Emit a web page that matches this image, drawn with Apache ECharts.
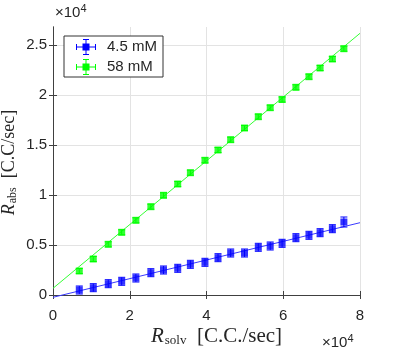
<!DOCTYPE html>
<html>
<head>
<meta charset="utf-8">
<script src="https://cdn.jsdelivr.net/npm/echarts@6/dist/echarts.min.js"></script>
<style>
  html, body { margin: 0; padding: 0; background: #fff; }
  #chart { width: 399px; height: 354px; }
</style>
</head>
<body>
<div id="chart"></div>
<script>
// solvent count rate (x) shared by both measurements
const solvRate = [6850, 10500, 14400, 17900, 21600, 25500, 28800, 32500, 35800, 39600, 43000,
  46300, 49900, 53500, 56600, 59700, 63300, 66700, 69600, 72800, 75800];
// absorbed rate, 4.5 mM
const absLow = [500, 730, 1130, 1370, 1700, 2230, 2500, 2670, 3070, 3270, 3730,
  4200, 4200, 4770, 4900, 5170, 5730, 5970, 6230, 6630, 7300];
const errLow = [400, 400, 400, 400, 400, 400, 400, 400, 400, 400, 400,
  400, 400, 400, 400, 400, 400, 400, 400, 400, 500];
// absorbed rate, 58 mM
const absHigh = [2400, 3600, 5070, 6270, 7470, 8830, 9970, 11100, 12230, 13470, 14500,
  15530, 16700, 17830, 18730, 19550, 20770, 21830, 22700, 23600, 24630];
const errHigh = [250, 250, 250, 250, 250, 250, 250, 250, 250, 250, 250,
  250, 250, 250, 250, 250, 250, 250, 250, 250, 250];
// linear fits
const fitX = [0, 80000];
const fitLow = [-230, 7230];
const fitHigh = [670, 26170];
// ticks
const xTicks = [0, 20000, 40000, 60000, 80000];
const yTicks = [0, 5000, 10000, 15000, 20000, 25000];

const blue = '#0000ff';
const green = '#00ff00';
const axisColor = '#404040';
const sans = 'Liberation Sans';
const serif = 'Liberation Serif';

// marker with error bars, used as legend icon
const errIcon = 'path://M0 7.5H20V8.5H0Z M9.5 0H10.5V16H9.5Z M0 5H1V11H0Z M19 5H20V11H19Z ' +
  'M7 0H13V1H7Z M7 15H13V16H7Z M6.5 4.5H13.5V11.5H6.5Z';

function errorBars(params, api) {
  const x = api.value(0);
  const y = api.value(1);
  const e = api.value(2);
  const top = api.coord([x, y + e]);
  const bot = api.coord([x, y - e]);
  const half = 3.5;
  const style = { stroke: api.visual('color'), lineWidth: 1 };
  return {
    type: 'group',
    children: [
      { type: 'line', shape: { x1: top[0], y1: top[1], x2: bot[0], y2: bot[1] }, style: style },
      { type: 'line', shape: { x1: top[0] - half, y1: top[1], x2: top[0] + half, y2: top[1] }, style: style },
      { type: 'line', shape: { x1: bot[0] - half, y1: bot[1], x2: bot[0] + half, y2: bot[1] }, style: style }
    ]
  };
}

const zip = (xs, ys) => xs.map((x, i) => [x, ys[i]]);
const zip3 = (xs, ys, es) => xs.map((x, i) => [x, ys[i], es[i]]);

const chart = echarts.init(document.getElementById('chart'));

const baseX = {
  type: 'value', min: 0, max: 80000, interval: 20000,
  axisLine: { show: true, lineStyle: { color: axisColor, width: 1 } },
  axisTick: { show: true, inside: true, length: 4, lineStyle: { color: axisColor } }
};
const baseY = {
  type: 'value', min: -300, max: 26800,
  axisLine: { show: true, lineStyle: { color: axisColor, width: 1 } },
  axisTick: { show: true, inside: true, length: 4, customValues: yTicks, lineStyle: { color: axisColor } }
};

chart.setOption({
  animation: false,
  grid: { left: 53, right: 39, top: 27, bottom: 56, outerBoundsMode: 'none' },
  legend: {
    data: ['4.5 mM', '58 mM'],
    orient: 'vertical',
    left: 64, top: 36,
    padding: [3, 6, 2, 12],
    itemWidth: 20, itemHeight: 16, itemGap: 4,
    backgroundColor: '#fff',
    borderColor: '#333', borderWidth: 1, borderRadius: 0,
    icon: errIcon,
    textStyle: { fontFamily: sans, fontSize: 15, color: '#262626', padding: [0, 0, 0, 6] }
  },
  xAxis: [
    Object.assign({}, baseX, {
      position: 'bottom',
      name: '{i|R}{s|solv}{n|  [C.C./sec]}',
      nameLocation: 'middle', nameGap: 28, nameMoveOverlap: false,
      nameTextStyle: {
        padding: [0, 0, 0, 20],
        rich: {
          i: { fontFamily: serif, fontStyle: 'italic', fontSize: 21, color: '#262626' },
          s: { fontFamily: serif, fontSize: 13, color: '#262626', padding: [8, 0, 0, 1] },
          n: { fontFamily: serif, fontSize: 21, color: '#262626' }
        }
      },
      axisLabel: {
        fontFamily: sans, fontSize: 15, color: '#262626', margin: 10,
        formatter: v => String(v / 10000)
      },
      splitLine: { show: true, lineStyle: { color: '#e3e3e3', width: 1 } }
    }),
    Object.assign({}, baseX, {
      position: 'top',
      axisLabel: { show: false },
      splitLine: { show: false }
    })
  ],
  yAxis: [
    Object.assign({}, baseY, {
      position: 'left',
      name: '{i|R}{s|abs}{n|  [C.C/sec]}',
      nameLocation: 'middle', nameGap: 34, nameRotate: 90, nameMoveOverlap: false,
      nameTextStyle: {
        rich: {
          i: { fontFamily: serif, fontStyle: 'italic', fontSize: 18, color: '#262626' },
          s: { fontFamily: serif, fontSize: 12, color: '#262626', padding: [7, 0, 0, 1] },
          n: { fontFamily: serif, fontSize: 18, color: '#262626' }
        }
      },
      axisLabel: {
        fontFamily: sans, fontSize: 15, color: '#262626', margin: 6,
        customValues: yTicks,
        formatter: v => String(v / 10000)
      },
      splitLine: { show: true, lineStyle: { color: '#e3e3e3', width: 1 } }
    }),
    Object.assign({}, baseY, {
      position: 'right',
      axisLabel: { show: false },
      splitLine: { show: false }
    })
  ],
  graphic: [
    {
      type: 'text', left: 55, top: 3,
      style: {
        text: '×10{s|4}', fontFamily: sans, fontSize: 15, fill: '#262626',
        rich: { s: { fontFamily: sans, fontSize: 11, fill: '#262626', padding: [0, 0, 8, 0] } }
      }
    },
    {
      type: 'text', left: 322, top: 333,
      style: {
        text: '×10{s|4}', fontFamily: sans, fontSize: 15, fill: '#262626',
        rich: { s: { fontFamily: sans, fontSize: 11, fill: '#262626', padding: [0, 0, 8, 0] } }
      }
    }
  ],
  series: [
    {
      name: 'fit low', type: 'line', data: zip(fitX, fitLow), symbol: 'none',
      lineStyle: { color: '#3a3aff', width: 1 }, z: 1
    },
    {
      name: 'fit high', type: 'line', data: zip(fitX, fitHigh), symbol: 'none',
      lineStyle: { color: '#33ff33', width: 1 }, z: 1
    },
    {
      name: '4.5 mM', type: 'custom', renderItem: errorBars,
      data: zip3(solvRate, absLow, errLow), itemStyle: { color: blue }, z: 2
    },
    {
      name: '58 mM', type: 'custom', renderItem: errorBars,
      data: zip3(solvRate, absHigh, errHigh), itemStyle: { color: green }, z: 2
    },
    {
      name: '4.5 mM', type: 'scatter', data: zip(solvRate, absLow),
      symbol: 'rect', symbolSize: 7, itemStyle: { color: blue }, z: 3
    },
    {
      name: '58 mM', type: 'scatter', data: zip(solvRate, absHigh),
      symbol: 'rect', symbolSize: 7, itemStyle: { color: green }, z: 3
    }
  ]
});
</script>
</body>
</html>
